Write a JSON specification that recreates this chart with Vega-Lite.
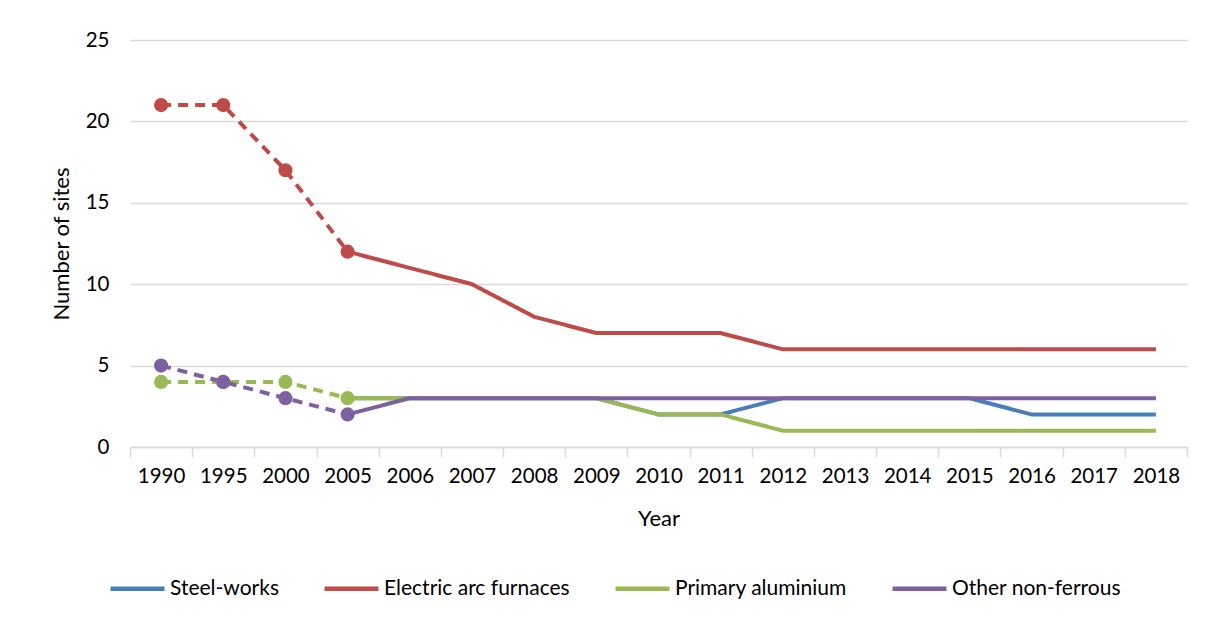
{
  "$schema": "https://vega.github.io/schema/vega-lite/v6.json",
  "autosize": "none",
  "width": 1057,
  "height": 407,
  "padding": {"left": 130, "top": 40, "right": 20, "bottom": 172},
  "background": "white",
  "config": {
    "font": "Lato",
    "view": {"stroke": null},
    "axis": {"labelFont": "Lato", "titleFont": "Lato", "labelColor": "#000", "titleColor": "#000", "titleFontWeight": "normal"}
  },
  "data": {"values": [
    {"s": "Steel-works", "y": "2005", "v": 3, "p": "recent"},
    {"s": "Steel-works", "y": "2006", "v": 3, "p": "recent"},
    {"s": "Steel-works", "y": "2007", "v": 3, "p": "recent"},
    {"s": "Steel-works", "y": "2008", "v": 3, "p": "recent"},
    {"s": "Steel-works", "y": "2009", "v": 3, "p": "recent"},
    {"s": "Steel-works", "y": "2010", "v": 2, "p": "recent"},
    {"s": "Steel-works", "y": "2011", "v": 2, "p": "recent"},
    {"s": "Steel-works", "y": "2012", "v": 3, "p": "recent"},
    {"s": "Steel-works", "y": "2013", "v": 3, "p": "recent"},
    {"s": "Steel-works", "y": "2014", "v": 3, "p": "recent"},
    {"s": "Steel-works", "y": "2015", "v": 3, "p": "recent"},
    {"s": "Steel-works", "y": "2016", "v": 2, "p": "recent"},
    {"s": "Steel-works", "y": "2017", "v": 2, "p": "recent"},
    {"s": "Steel-works", "y": "2018", "v": 2, "p": "recent"},
    {"s": "Electric arc furnaces", "y": "1990", "v": 21, "p": "hist"},
    {"s": "Electric arc furnaces", "y": "1995", "v": 21, "p": "hist"},
    {"s": "Electric arc furnaces", "y": "2000", "v": 17, "p": "hist"},
    {"s": "Electric arc furnaces", "y": "2005", "v": 12, "p": "hist"},
    {"s": "Electric arc furnaces", "y": "2005", "v": 12, "p": "recent"},
    {"s": "Electric arc furnaces", "y": "2006", "v": 11, "p": "recent"},
    {"s": "Electric arc furnaces", "y": "2007", "v": 10, "p": "recent"},
    {"s": "Electric arc furnaces", "y": "2008", "v": 8, "p": "recent"},
    {"s": "Electric arc furnaces", "y": "2009", "v": 7, "p": "recent"},
    {"s": "Electric arc furnaces", "y": "2010", "v": 7, "p": "recent"},
    {"s": "Electric arc furnaces", "y": "2011", "v": 7, "p": "recent"},
    {"s": "Electric arc furnaces", "y": "2012", "v": 6, "p": "recent"},
    {"s": "Electric arc furnaces", "y": "2013", "v": 6, "p": "recent"},
    {"s": "Electric arc furnaces", "y": "2014", "v": 6, "p": "recent"},
    {"s": "Electric arc furnaces", "y": "2015", "v": 6, "p": "recent"},
    {"s": "Electric arc furnaces", "y": "2016", "v": 6, "p": "recent"},
    {"s": "Electric arc furnaces", "y": "2017", "v": 6, "p": "recent"},
    {"s": "Electric arc furnaces", "y": "2018", "v": 6, "p": "recent"},
    {"s": "Primary aluminium", "y": "1990", "v": 4, "p": "hist"},
    {"s": "Primary aluminium", "y": "1995", "v": 4, "p": "hist"},
    {"s": "Primary aluminium", "y": "2000", "v": 4, "p": "hist"},
    {"s": "Primary aluminium", "y": "2005", "v": 3, "p": "hist"},
    {"s": "Primary aluminium", "y": "2005", "v": 3, "p": "recent"},
    {"s": "Primary aluminium", "y": "2006", "v": 3, "p": "recent"},
    {"s": "Primary aluminium", "y": "2007", "v": 3, "p": "recent"},
    {"s": "Primary aluminium", "y": "2008", "v": 3, "p": "recent"},
    {"s": "Primary aluminium", "y": "2009", "v": 3, "p": "recent"},
    {"s": "Primary aluminium", "y": "2010", "v": 2, "p": "recent"},
    {"s": "Primary aluminium", "y": "2011", "v": 2, "p": "recent"},
    {"s": "Primary aluminium", "y": "2012", "v": 1, "p": "recent"},
    {"s": "Primary aluminium", "y": "2013", "v": 1, "p": "recent"},
    {"s": "Primary aluminium", "y": "2014", "v": 1, "p": "recent"},
    {"s": "Primary aluminium", "y": "2015", "v": 1, "p": "recent"},
    {"s": "Primary aluminium", "y": "2016", "v": 1, "p": "recent"},
    {"s": "Primary aluminium", "y": "2017", "v": 1, "p": "recent"},
    {"s": "Primary aluminium", "y": "2018", "v": 1, "p": "recent"},
    {"s": "Other non-ferrous", "y": "1990", "v": 5, "p": "hist"},
    {"s": "Other non-ferrous", "y": "1995", "v": 4, "p": "hist"},
    {"s": "Other non-ferrous", "y": "2000", "v": 3, "p": "hist"},
    {"s": "Other non-ferrous", "y": "2005", "v": 2, "p": "hist"},
    {"s": "Other non-ferrous", "y": "2005", "v": 2, "p": "recent"},
    {"s": "Other non-ferrous", "y": "2006", "v": 3, "p": "recent"},
    {"s": "Other non-ferrous", "y": "2007", "v": 3, "p": "recent"},
    {"s": "Other non-ferrous", "y": "2008", "v": 3, "p": "recent"},
    {"s": "Other non-ferrous", "y": "2009", "v": 3, "p": "recent"},
    {"s": "Other non-ferrous", "y": "2010", "v": 3, "p": "recent"},
    {"s": "Other non-ferrous", "y": "2011", "v": 3, "p": "recent"},
    {"s": "Other non-ferrous", "y": "2012", "v": 3, "p": "recent"},
    {"s": "Other non-ferrous", "y": "2013", "v": 3, "p": "recent"},
    {"s": "Other non-ferrous", "y": "2014", "v": 3, "p": "recent"},
    {"s": "Other non-ferrous", "y": "2015", "v": 3, "p": "recent"},
    {"s": "Other non-ferrous", "y": "2016", "v": 3, "p": "recent"},
    {"s": "Other non-ferrous", "y": "2017", "v": 3, "p": "recent"},
    {"s": "Other non-ferrous", "y": "2018", "v": 3, "p": "recent"}
  ]},
  "encoding": {
    "x": {
      "field": "y", "type": "ordinal",
      "scale": {"type": "band", "paddingInner": 0, "paddingOuter": 0},
      "axis": {
        "title": "Year", "labelAngle": 0, "labelFontSize": 20.5, "titleFontSize": 22,
        "tickBand": "extent", "tickSize": 10, "tickColor": "#d9d9d9", "tickWidth": 1.5,
        "domainColor": "#d9d9d9", "domainWidth": 1.5, "labelPadding": 9, "titlePadding": 22, "grid": false
      }
    },
    "y": {
      "field": "v", "type": "quantitative",
      "scale": {"domain": [0, 25]},
      "axis": {
        "title": "Number of sites", "values": [0, 5, 10, 15, 20, 25], "labelFontSize": 20.5, "titleFontSize": 22,
        "ticks": false, "domain": false, "gridColor": "#d9d9d9", "gridWidth": 1.5,
        "labelPadding": 21, "titlePadding": 12
      }
    },
    "color": {
      "field": "s", "type": "nominal",
      "scale": {
        "domain": ["Steel-works", "Electric arc furnaces", "Primary aluminium", "Other non-ferrous"],
        "range": ["#4A7EBB", "#BE4B48", "#98B954", "#7D60A0"]
      }
    }
  },
  "layer": [
    {
      "mark": {"type": "line", "strokeWidth": 4},
      "encoding": {
        "detail": {"field": "p"},
        "strokeDash": {
          "field": "p", "type": "nominal",
          "scale": {"domain": ["hist", "recent"], "range": [[10, 7], [1, 0]]},
          "legend": null
        },
        "color": {
          "field": "s", "type": "nominal",
          "legend": {
            "title": null, "orient": "none", "direction": "horizontal",
            "legendX": -22, "legendY": 519,
            "symbolType": "stroke", "symbolSize": 2916, "symbolStrokeWidth": 4.5,
            "labelFontSize": 21, "labelFont": "Lato", "labelColor": "#000", "labelLimit": 0,
            "labelOffset": 3, "columnPadding": 36
          }
        }
      }
    },
    {
      "transform": [{"filter": "datum.p == 'hist'"}],
      "mark": {"type": "circle", "size": 200, "opacity": 1},
      "encoding": {
        "color": {"field": "s", "type": "nominal", "legend": null}
      }
    }
  ]
}
